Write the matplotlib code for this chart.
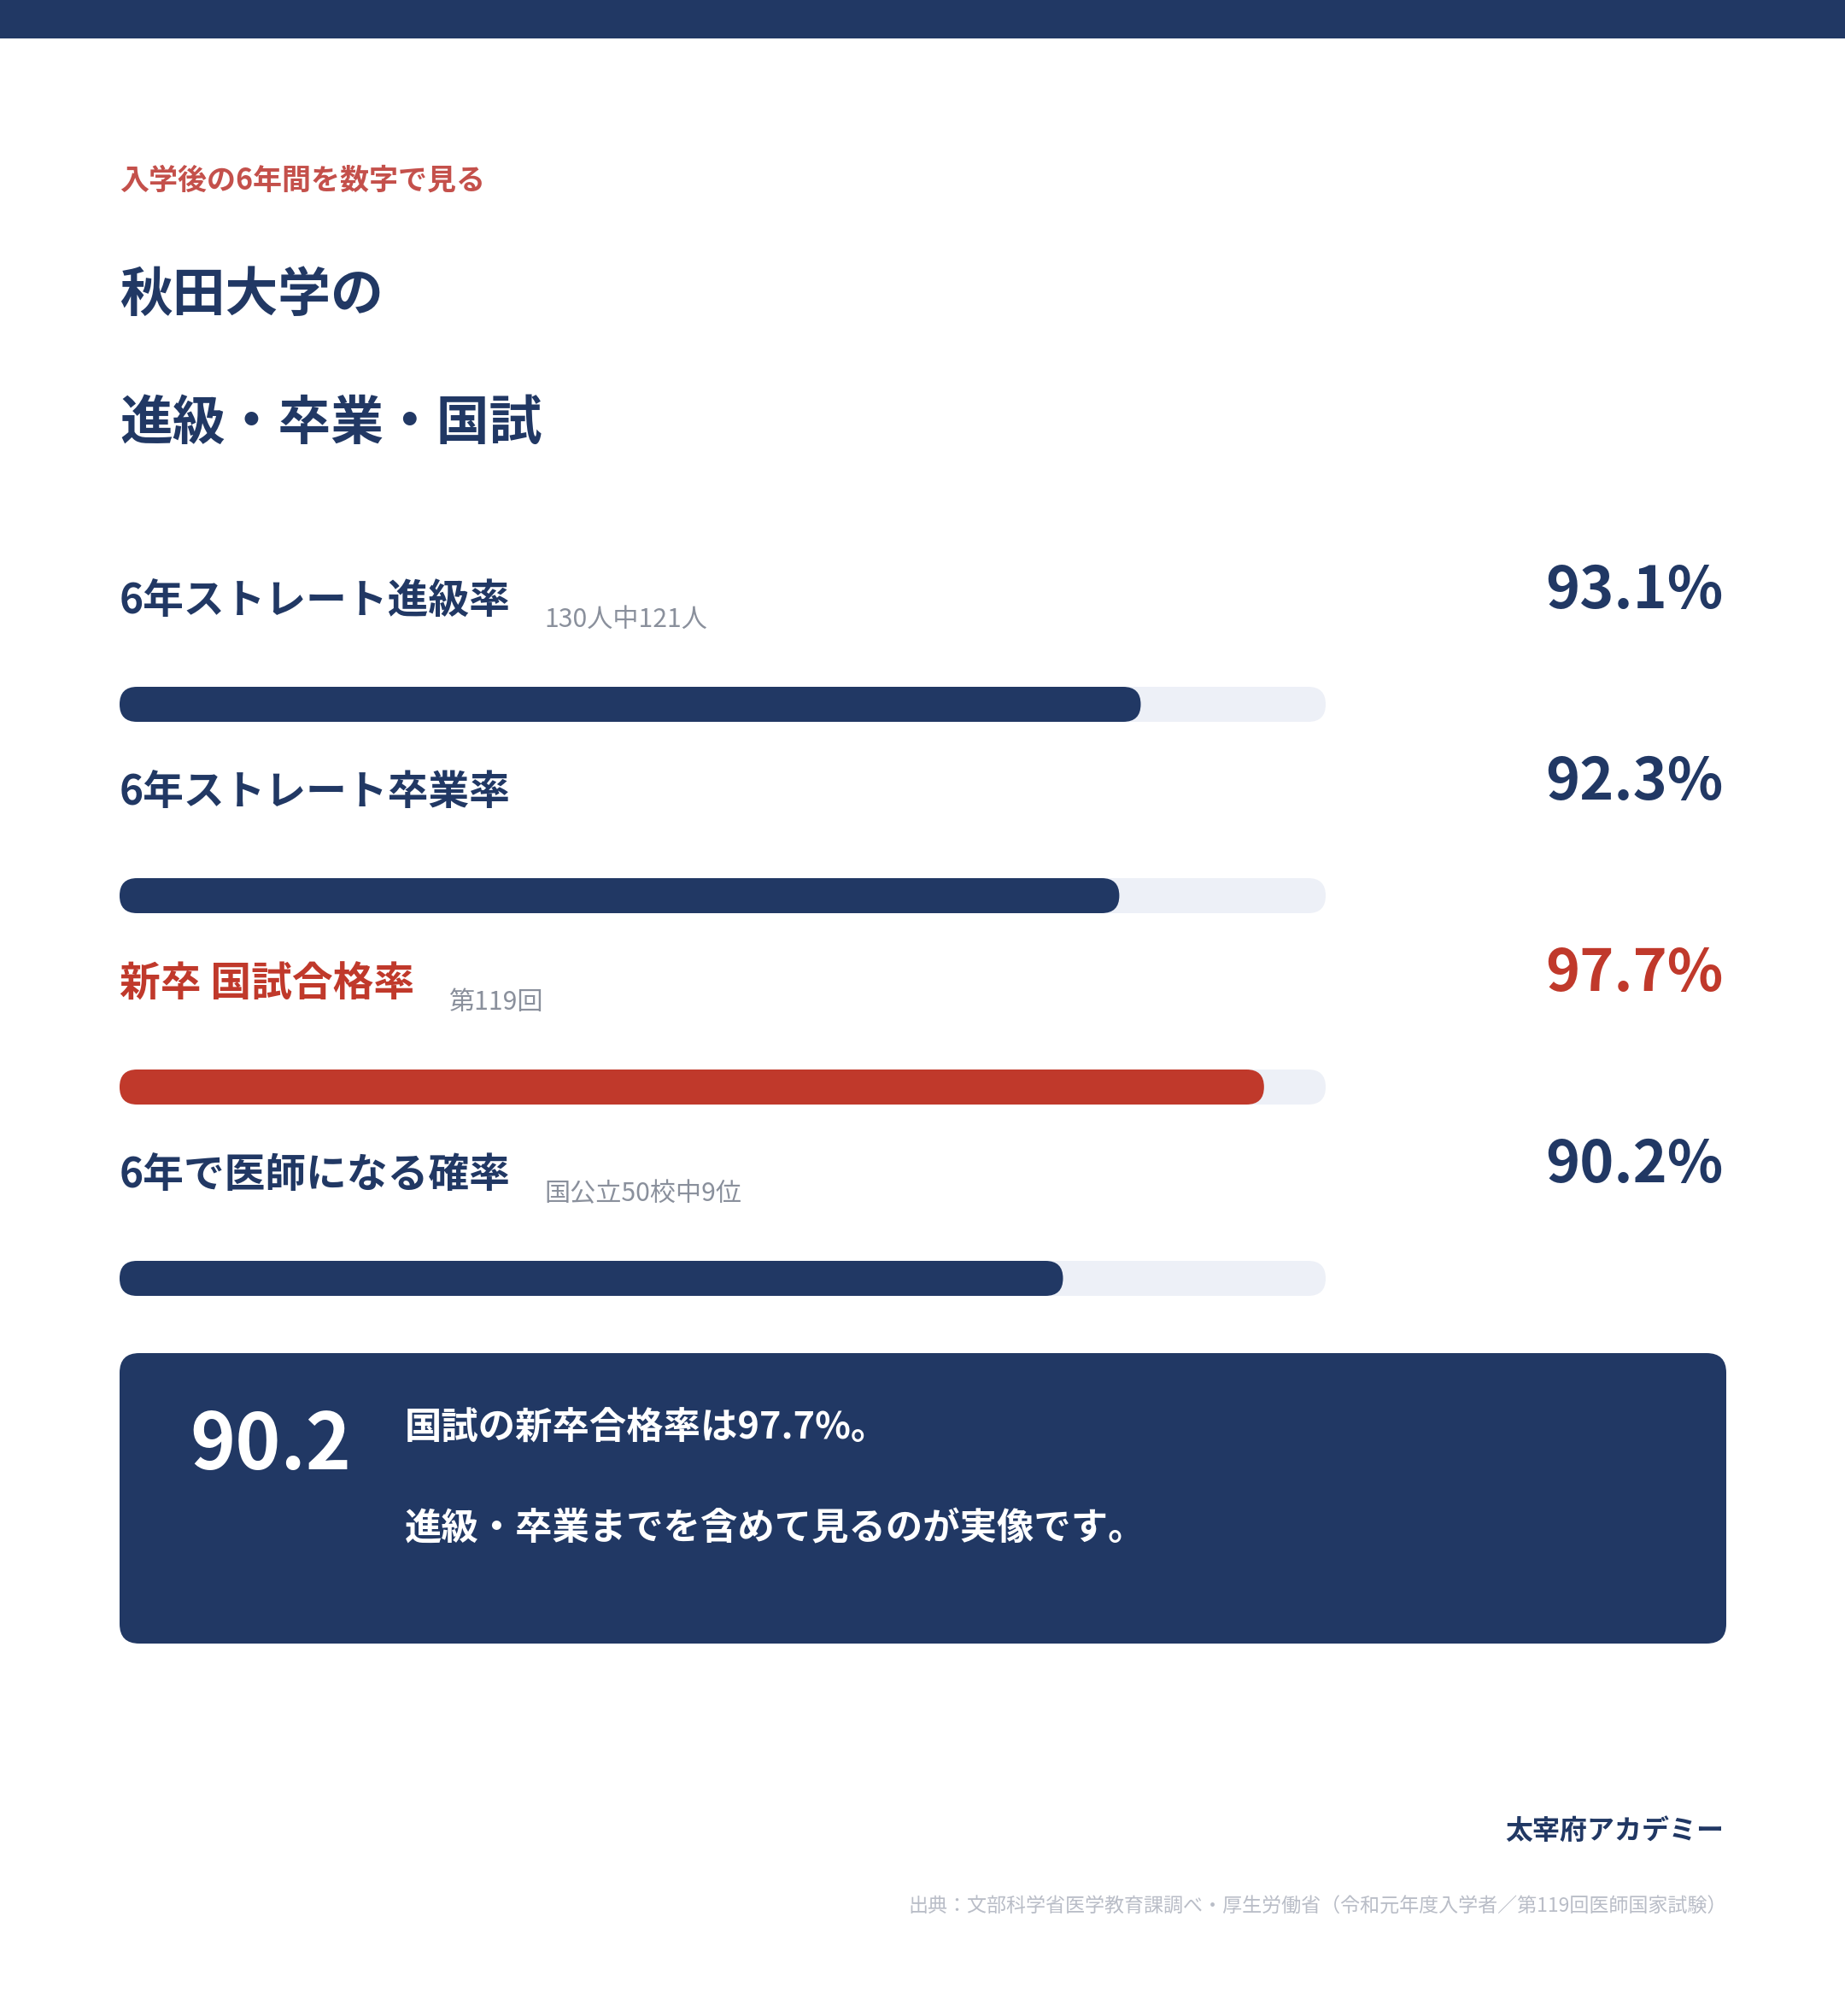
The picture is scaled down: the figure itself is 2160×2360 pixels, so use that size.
import matplotlib
matplotlib.use("Agg")
import matplotlib.pyplot as plt
from matplotlib.patches import FancyBboxPatch, Rectangle

plt.rcParams['font.family'] = ['Noto Sans CJK JP', 'DejaVu Sans']

# ---------------- data ----------------
kicker = "入学後の6年間を数字で見る"
title_lines = ["秋田大学の", "進級・卒業・国試"]
labels = ["6年ストレート進級率", "6年ストレート卒業率", "新卒 国試合格率", "6年で医師になる確率"]
notes = ["130人中121人", "", "第119回", "国公立50校中9位"]
values = [93.1, 92.3, 97.7, 90.2]
highlight = [False, False, True, False]
axis_min = 55
axis_max = 100
callout_number = "90.2"
callout_lines = ["国試の新卒合格率は97.7%。", "進級・卒業までを含めて見るのが実像です。"]
brand = "太宰府アカデミー"
source = "出典：文部科学省医学教育課調べ・厚生労働省（令和元年度入学者／第119回医師国家試験）"

# ---------------- style ----------------
NAVY = "#213864"
RED = "#c0392b"
KICKER = "#c4504b"
TRACK = "#edf0f7"
GRAY = "#8a909c"
LIGHTGRAY = "#b9bdc7"

W, H = 2160, 2360
DPI = 100
fig = plt.figure(figsize=(W / DPI, H / DPI), dpi=DPI, facecolor="white")

# background axis in pixel coordinates
bg = fig.add_axes([0, 0, 1, 1])
bg.set_xlim(0, W)
bg.set_ylim(H, 0)
bg.axis("off")

bg.add_patch(Rectangle((0, 0), W, 45, color=NAVY, lw=0))

LEFT = 140
bg.text(LEFT, 222, kicker, color=KICKER, fontsize=24.5, fontweight="bold", va="baseline", ha="left")
bg.text(LEFT, 364, title_lines[0], color=NAVY, fontsize=44.5, fontweight="bold", va="baseline", ha="left")
bg.text(LEFT, 514, title_lines[1], color=NAVY, fontsize=44.5, fontweight="bold", va="baseline", ha="left")

# bars axis
track_left, track_right = 140, 1552
row0, row_step = 824.5, 224
bar_px = 41
ax_top = row0 - row_step / 2
ax_bot = row0 + row_step * (len(values) - 0.5)
ax = fig.add_axes([track_left / W, 1 - ax_bot / H, (track_right - track_left) / W, (ax_bot - ax_top) / H])
ax.set_xlim(axis_min, axis_max)
ax.set_ylim(len(values) - 0.5, -0.5)
ax.axis("off")
ax.patch.set_alpha(0)

px_per_x = (track_right - track_left) / (axis_max - axis_min)
px_per_y = row_step
bh = bar_px / px_per_y
r_x = (bar_px / 2) / px_per_x * 0.999
m_aspect = (1 / px_per_y) / (1 / px_per_x)


def rbar(x0, x1, y, color, z):
    p = FancyBboxPatch((x0, y - bh / 2), x1 - x0, bh,
                       boxstyle=f"round,pad=0,rounding_size={r_x}",
                       mutation_aspect=m_aspect, facecolor=color, edgecolor="none", zorder=z)
    ax.add_patch(p)


renderer = fig.canvas.get_renderer()
for i, (lab, note, v, hl) in enumerate(zip(labels, notes, values, highlight)):
    col = RED if hl else NAVY
    rbar(axis_min, axis_max, i, TRACK, 1)
    rbar(axis_min, v, i, col, 2)
    yc = row0 + row_step * i
    t = bg.text(LEFT, yc - 106, lab, color=col, fontsize=34.4, fontweight="bold", va="baseline", ha="left")
    if note:
        bb = t.get_window_extent(renderer=renderer)
        bg.text(bb.x1 + 40, yc - 90.5, note, color=GRAY, fontsize=21.7, va="baseline", ha="left")
    bg.text(2018, yc - 112.5, f"{v}%", color=col, fontsize=49, fontweight="bold", va="baseline", ha="right")

# callout box
bg.add_patch(FancyBboxPatch((140, 1584), 1881, 340, boxstyle="round,pad=0,rounding_size=23",
                            facecolor=NAVY, edgecolor="none"))
bg.text(222, 1720, callout_number, color="white", fontsize=65, fontweight="bold", va="baseline", ha="left")
bg.text(474, 1685, callout_lines[0], color="white", fontsize=31.2, fontweight="bold", va="baseline", ha="left")
bg.text(474, 1802, callout_lines[1], color="white", fontsize=31.2, fontweight="bold", va="baseline", ha="left")

# footer
bg.text(2018, 2153, brand, color=NAVY, fontsize=23, fontweight="bold", va="baseline", ha="right")
bg.text(2022, 2239, source, color=LIGHTGRAY, fontsize=16.6, va="baseline", ha="right")

fig.savefig("out.png", dpi=DPI, facecolor="white")
